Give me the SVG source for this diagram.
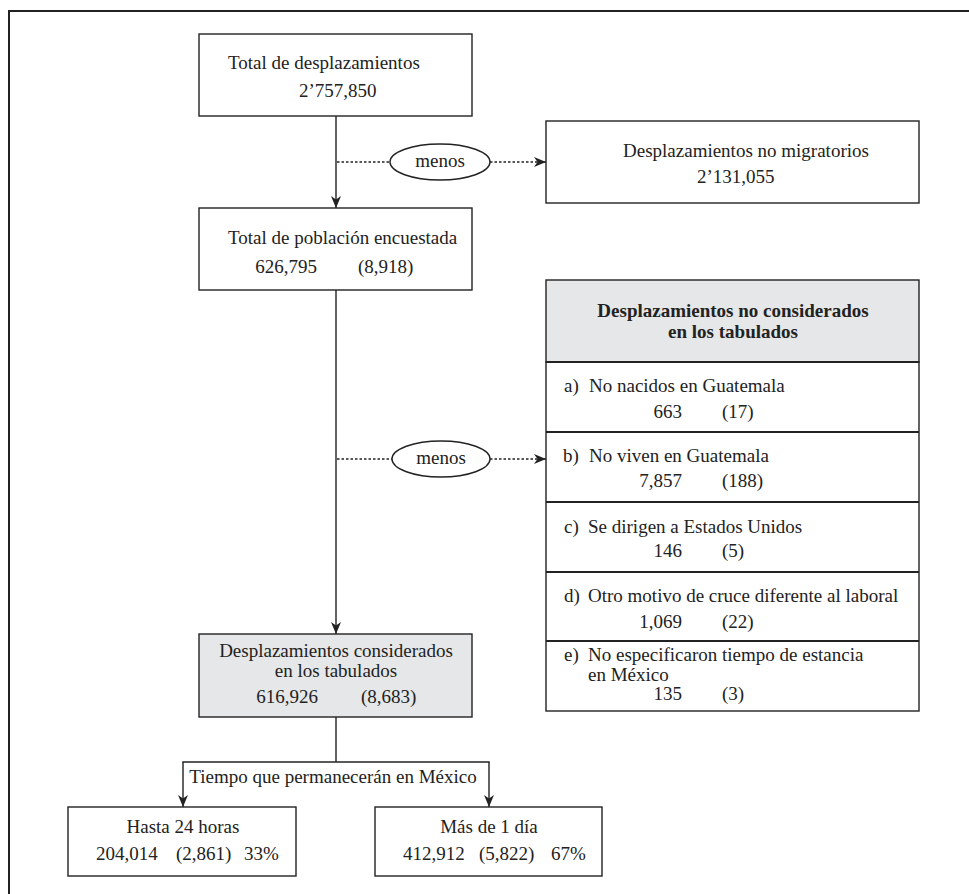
<svg xmlns="http://www.w3.org/2000/svg" width="969" height="894" viewBox="0 0 969 894" font-family="'Liberation Serif', 'DejaVu Serif', serif">
<style>
  text { font-family: 'Liberation Serif', 'DejaVu Serif', serif; font-size: 19px; fill: #222; }
  .b { font-weight: bold; }
  .m { text-anchor: middle; }
  .e { text-anchor: end; }
  .box { fill: #fff; stroke: #222; stroke-width: 1.4; }
  .gray { fill: #e6e7e8; stroke: #222; stroke-width: 1.4; }
  .sep { stroke: #222; stroke-width: 1.8; fill: none; }
  .ln { stroke: #222; stroke-width: 1.4; fill: none; }
  .dot { stroke: #222; stroke-width: 1.3; fill: none; stroke-dasharray: 2.5 2; }
</style>
<defs>
  <marker id="arr" viewBox="0 0 12 10" refX="12" refY="5" markerWidth="12" markerHeight="10" markerUnits="userSpaceOnUse" orient="auto">
    <path d="M0,0 L12,5 L0,10 L3.5,5 z" fill="#222"/>
  </marker>
</defs>
<rect width="969" height="894" fill="#fff"/>
<path d="M9,894 V11 H969" fill="none" stroke="#222" stroke-width="2"/>

<g id="connectors">
  <line class="ln" x1="336" y1="116" x2="336" y2="208" marker-end="url(#arr)"/>
  <line class="dot" x1="337" y1="162" x2="390" y2="162"/>
  <line class="dot" x1="490" y1="162" x2="546" y2="162" marker-end="url(#arr)"/>
  <line class="ln" x1="336" y1="290" x2="336" y2="634" marker-end="url(#arr)"/>
  <line class="dot" x1="337" y1="459" x2="392" y2="459"/>
  <line class="dot" x1="490" y1="459" x2="546" y2="459" marker-end="url(#arr)"/>
  <line class="ln" x1="336" y1="717" x2="336" y2="762"/>
  <line class="ln" x1="182.3" y1="762" x2="489.7" y2="762"/>
  <line class="ln" x1="183" y1="762" x2="183" y2="807" marker-end="url(#arr)"/>
  <line class="ln" x1="489" y1="762" x2="489" y2="807" marker-end="url(#arr)"/>
  <text class="m" x="333" y="783">Tiempo que permanecerán en México</text>
</g>

<g id="menos1">
  <ellipse class="box" cx="440" cy="162" rx="50" ry="18"/>
  <text class="m" x="440" y="167">menos</text>
</g>
<g id="menos2">
  <ellipse class="box" cx="441" cy="459" rx="49" ry="18"/>
  <text class="m" x="441" y="464">menos</text>
</g>

<g id="total-desplazamientos">
  <rect class="box" x="199" y="34" width="273" height="82"/>
  <text x="228" y="69">Total de desplazamientos</text>
  <text x="299" y="97">2’757,850</text>
</g>

<g id="no-migratorios">
  <rect class="box" x="546" y="121" width="373" height="82"/>
  <text x="623" y="157">Desplazamientos no migratorios</text>
  <text x="697" y="183">2’131,055</text>
</g>

<g id="poblacion-encuestada">
  <rect class="box" x="199" y="208" width="273" height="82"/>
  <text x="228" y="244">Total de población encuestada</text>
  <text class="e" x="317" y="273">626,795</text>
  <text x="358" y="273">(8,918)</text>
</g>

<g id="no-considerados">
  <rect class="gray" x="546" y="280" width="373" height="82"/>
  <rect class="box" x="546" y="362" width="373" height="349"/>
  <line class="sep" x1="546" y1="362" x2="919" y2="362"/>
  <line class="sep" x1="546" y1="432" x2="919" y2="432"/>
  <line class="sep" x1="546" y1="502" x2="919" y2="502"/>
  <line class="sep" x1="546" y1="572" x2="919" y2="572"/>
  <line class="sep" x1="546" y1="641" x2="919" y2="641"/>
  <text class="m b" x="733" y="317">Desplazamientos no considerados</text>
  <text class="m b" x="733" y="338">en los tabulados</text>

  <text x="564" y="392">a)</text><text x="589" y="392">No nacidos en Guatemala</text>
  <text class="e" x="682" y="418">663</text><text x="722" y="418">(17)</text>

  <text x="563" y="462">b)</text><text x="589" y="462">No viven en Guatemala</text>
  <text class="e" x="682" y="487">7,857</text><text x="722" y="487">(188)</text>

  <text x="564" y="533">c)</text><text x="588" y="533">Se dirigen a Estados Unidos</text>
  <text class="e" x="682" y="557">146</text><text x="722" y="557">(5)</text>

  <text x="564" y="602">d)</text><text x="588" y="602">Otro motivo de cruce diferente al laboral</text>
  <text class="e" x="682" y="628">1,069</text><text x="722" y="628">(22)</text>

  <text x="564" y="661">e)</text><text x="588" y="661">No especificaron tiempo de estancia</text>
  <text x="588" y="681">en México</text>
  <text class="e" x="682" y="700">135</text><text x="722" y="700">(3)</text>
</g>

<g id="considerados">
  <rect class="gray" x="199" y="634" width="273" height="83"/>
  <text class="m" x="336" y="657">Desplazamientos considerados</text>
  <text class="m" x="336" y="677">en los tabulados</text>
  <text class="e" x="318" y="703">616,926</text>
  <text x="361" y="703">(8,683)</text>
</g>

<g id="hasta-24">
  <rect class="box" x="68" y="807" width="228" height="69"/>
  <text class="m" x="183" y="833">Hasta 24 horas</text>
  <text x="96" y="860">204,014</text>
  <text x="176" y="860">(2,861)</text>
  <text x="244" y="860">33%</text>
</g>

<g id="mas-1-dia">
  <rect class="box" x="375" y="807" width="227" height="69"/>
  <text class="m" x="489" y="833">Más de 1 día</text>
  <text x="403" y="860">412,912</text>
  <text x="479" y="860">(5,822)</text>
  <text x="551" y="860">67%</text>
</g>
</svg>
